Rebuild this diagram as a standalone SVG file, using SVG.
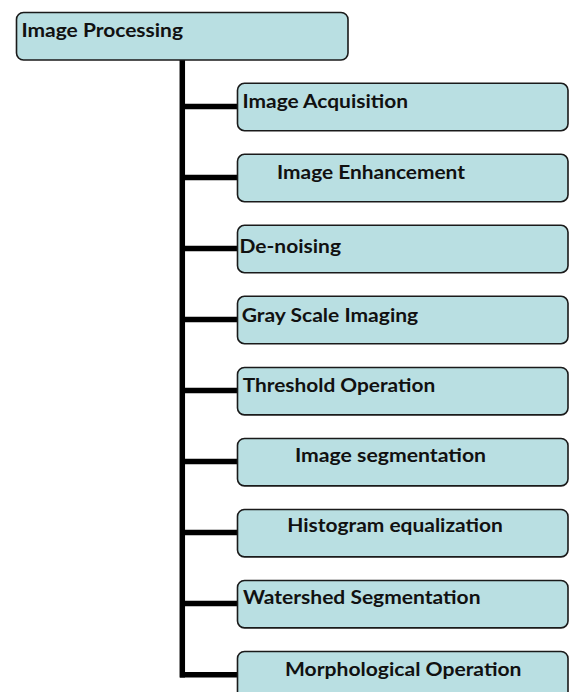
<svg xmlns="http://www.w3.org/2000/svg" width="572" height="692" viewBox="0 0 572 692">
<style>
.box{fill:#b9dfe2;stroke:#1a1a1a;stroke-width:1.6}
.lbl{font-family:Lato,"Open Sans","Liberation Sans",sans-serif;font-weight:bold;font-size:19.5px;fill:#111}
.ln{stroke:#000;stroke-width:5.5;fill:none}
</style>
<rect width="572" height="692" fill="#fff"/>
<g id="connectors">
<line class="ln" x1="182.3" y1="60" x2="182.3" y2="677.5"/>
<line class="ln" x1="180" y1="106.5" x2="237" y2="106.5"/>
<line class="ln" x1="180" y1="177.5" x2="237" y2="177.5"/>
<line class="ln" x1="180" y1="248.5" x2="237" y2="248.5"/>
<line class="ln" x1="180" y1="319.5" x2="237" y2="319.5"/>
<line class="ln" x1="180" y1="390.5" x2="237" y2="390.5"/>
<line class="ln" x1="180" y1="461.5" x2="237" y2="461.5"/>
<line class="ln" x1="180" y1="532.5" x2="237" y2="532.5"/>
<line class="ln" x1="180" y1="603.5" x2="237" y2="603.5"/>
<line class="ln" x1="180" y1="674.7" x2="237" y2="674.7"/>
</g>
<g id="root"><rect class="box" x="16.5" y="12.5" width="331.5" height="47.5" rx="7"/><text class="lbl" x="21.5" y="36.7" textLength="161.5" lengthAdjust="spacingAndGlyphs">Image Processing</text></g>
<g id="n1"><rect class="box" x="237.5" y="83.3" width="330.5" height="47.4" rx="7"/><text class="lbl" x="242.5" y="108" textLength="165.5" lengthAdjust="spacingAndGlyphs">Image Acquisition</text></g>
<g id="n2"><rect class="box" x="237.5" y="154.3" width="330.5" height="47.4" rx="7"/><text class="lbl" x="277" y="179" textLength="188" lengthAdjust="spacingAndGlyphs">Image Enhancement</text></g>
<g id="n3"><rect class="box" x="237.5" y="225.3" width="330.5" height="47.4" rx="7"/><text class="lbl" x="239.5" y="252.7" textLength="101.5" lengthAdjust="spacingAndGlyphs">De-noising</text></g>
<g id="n4"><rect class="box" x="237.5" y="296.3" width="330.5" height="47.4" rx="7"/><text class="lbl" x="241.7" y="321.7" textLength="176.5" lengthAdjust="spacingAndGlyphs">Gray Scale Imaging</text></g>
<g id="n5"><rect class="box" x="237.5" y="367.5" width="330.5" height="47.4" rx="7"/><text class="lbl" x="242.7" y="391.7" textLength="192.5" lengthAdjust="spacingAndGlyphs">Threshold Operation</text></g>
<g id="n6"><rect class="box" x="237.5" y="438.5" width="330.5" height="47.4" rx="7"/><text class="lbl" x="295" y="461.7" textLength="191" lengthAdjust="spacingAndGlyphs">Image segmentation</text></g>
<g id="n7"><rect class="box" x="237.5" y="509.5" width="330.5" height="47.4" rx="7"/><text class="lbl" x="287.3" y="531.7" textLength="215.5" lengthAdjust="spacingAndGlyphs">Histogram equalization</text></g>
<g id="n8"><rect class="box" x="237.5" y="580.5" width="330.5" height="47.4" rx="7"/><text class="lbl" x="243" y="604" textLength="237.5" lengthAdjust="spacingAndGlyphs">Watershed Segmentation</text></g>
<g id="n9"><rect class="box" x="237.5" y="651.5" width="330.5" height="47.4" rx="7"/><text class="lbl" x="285" y="676" textLength="236.5" lengthAdjust="spacingAndGlyphs">Morphological Operation</text></g>
</svg>
